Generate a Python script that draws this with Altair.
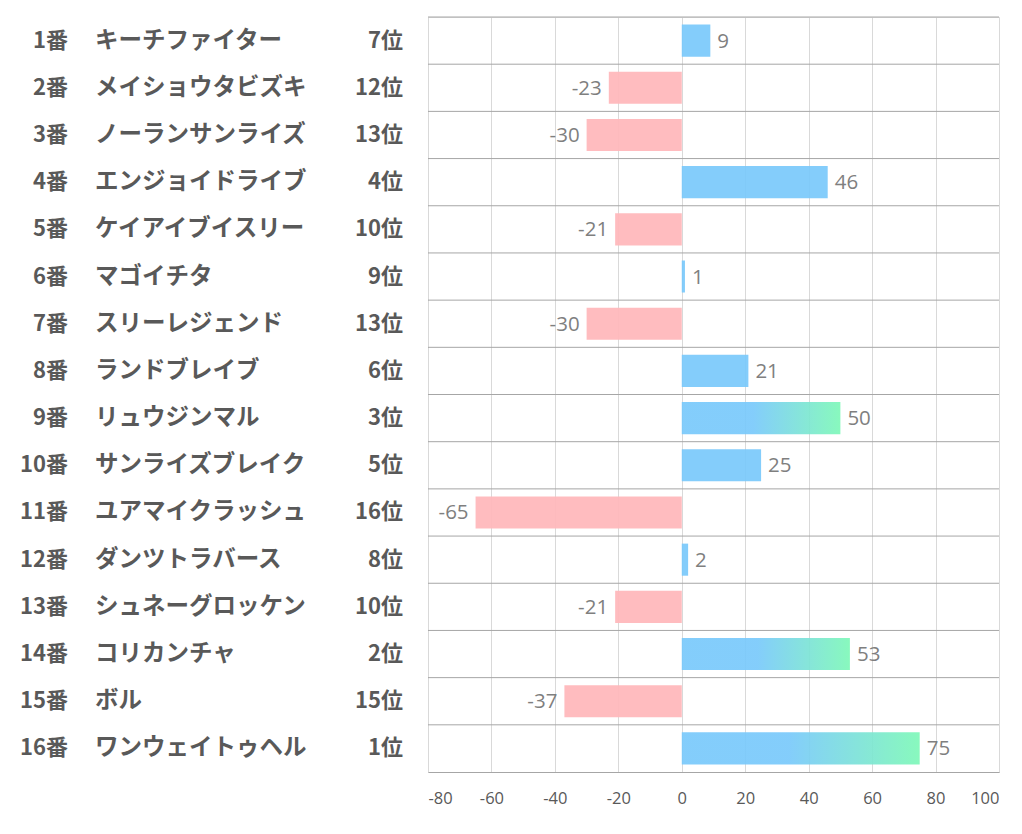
import altair as alt
import pandas as pd

nums = ["1番", "2番", "3番", "4番", "5番", "6番", "7番", "8番", "9番", "10番",
        "11番", "12番", "13番", "14番", "15番", "16番"]
names = ["キーチファイター", "メイショウタビズキ", "ノーランサンライズ", "エンジョイドライブ",
         "ケイアイブイスリー", "マゴイチタ", "スリーレジェンド", "ランドブレイブ",
         "リュウジンマル", "サンライズブレイク", "ユアマイクラッシュ", "ダンツトラバース",
         "シュネーグロッケン", "コリカンチャ", "ボル", "ワンウェイトゥヘル"]
ranks = ["7位", "12位", "13位", "4位", "10位", "9位", "13位", "6位", "3位", "5位",
         "16位", "8位", "10位", "2位", "15位", "1位"]
values = [9, -23, -30, 46, -21, 1, -30, 21, 50, 25, -65, 2, -21, 53, -37, 75]
top3 = [False, False, False, False, False, False, False, False, True, False,
        False, False, False, True, False, True]
ticks = [-80, -60, -40, -20, 0, 20, 40, 60, 80, 100]

df = pd.DataFrame({"row": list(range(16)), "num": nums, "name": names,
                   "rank": ranks, "value": values, "top": top3})
df["kind"] = ["grad" if t else ("pos" if v >= 0 else "neg") for v, t in zip(values, top3)]
df["label"] = [str(v) for v in values]

FONT = "Noto Sans CJK JP"
NUMFONT = "Open Sans"
order = list(range(16))

W, H = 571, 755
PI, PO = 0.32, 0.16
step = H / (16 - PI + 2 * PO)

yb = alt.Y("row:O", sort=order, title=None,
           scale=alt.Scale(paddingInner=PI, paddingOuter=PO),
           axis=alt.Axis(labels=False, ticks=False, domain=False, grid=False))
yy = alt.Y("row:O", sort=order)
x = alt.X("value:Q", title=None,
          scale=alt.Scale(domain=[-80, 100], nice=False, zero=False),
          axis=alt.Axis(values=ticks, labelExpr="datum.value",
                        grid=True, gridColor="#D9D9D9", ticks=False,
                        domainColor="#A6A6A6", labelColor="#595959",
                        labelFont=NUMFONT, labelFontSize=16.5, labelPadding=18))

base = alt.Chart(df)

hlines = base.mark_rule(color="#A6A6A6", strokeWidth=1, yOffset=-PO * step).encode(
    y=alt.Y("row:O", sort=order, bandPosition=0),
    x=alt.value(0), x2=alt.value(W))

pos = base.transform_filter("datum.kind == 'pos'").mark_bar(
    color="#79C9FB", fillOpacity=0.92).encode(x=x, y=yb)
neg = base.transform_filter("datum.kind == 'neg'").mark_bar(
    color="#FFB8BC", fillOpacity=0.95).encode(x="value:Q", y=yy)
grad = base.transform_filter("datum.kind == 'grad'").mark_bar(
    fillOpacity=0.92,
    color=alt.Gradient(gradient="linear", x1=0, x2=1, y1=0, y2=0,
                       stops=[alt.GradientStop(color="#79C9FB", offset=0),
                              alt.GradientStop(color="#79C9FB", offset=0.45),
                              alt.GradientStop(color="#7EF8B8", offset=1)])
).encode(x="value:Q", y=yy)

lbl_pos = base.transform_filter("datum.value >= 0").mark_text(
    align="left", baseline="middle", dx=7, dy=1, fontSize=20.5, font=NUMFONT, color="#7F7F7F"
).encode(x="value:Q", y=yy, text="label:N")
lbl_neg = base.transform_filter("datum.value < 0").mark_text(
    align="right", baseline="middle", dx=-7, dy=1, fontSize=20.5, font=NUMFONT, color="#7F7F7F"
).encode(x="value:Q", y=yy, text="label:N")

t_num = base.mark_text(align="right", baseline="middle", fontSize=22, font=FONT,
                       fontWeight="bold", color="#595959").encode(
    x=alt.value(-360), y=yy, text="num:N")
t_name = base.mark_text(align="left", baseline="middle", fontSize=23.5, font=FONT,
                        fontWeight="bold", color="#595959").encode(
    x=alt.value(-333), y=yy, text="name:N")
t_rank = base.mark_text(align="right", baseline="middle", fontSize=22, font=FONT,
                        fontWeight="bold", color="#595959").encode(
    x=alt.value(-25), y=yy, text="rank:N")

chart = alt.layer(hlines, pos, neg, grad, lbl_pos, lbl_neg, t_num, t_name, t_rank).properties(
    width=W, height=H,
    autosize=alt.AutoSizeParams(type="none"),
    padding={"left": 420, "top": 9, "right": 8, "bottom": 50},
).configure_view(stroke=None).configure(background="white")

chart.save("out.html", embed_options={"renderer": "svg", "actions": False})
